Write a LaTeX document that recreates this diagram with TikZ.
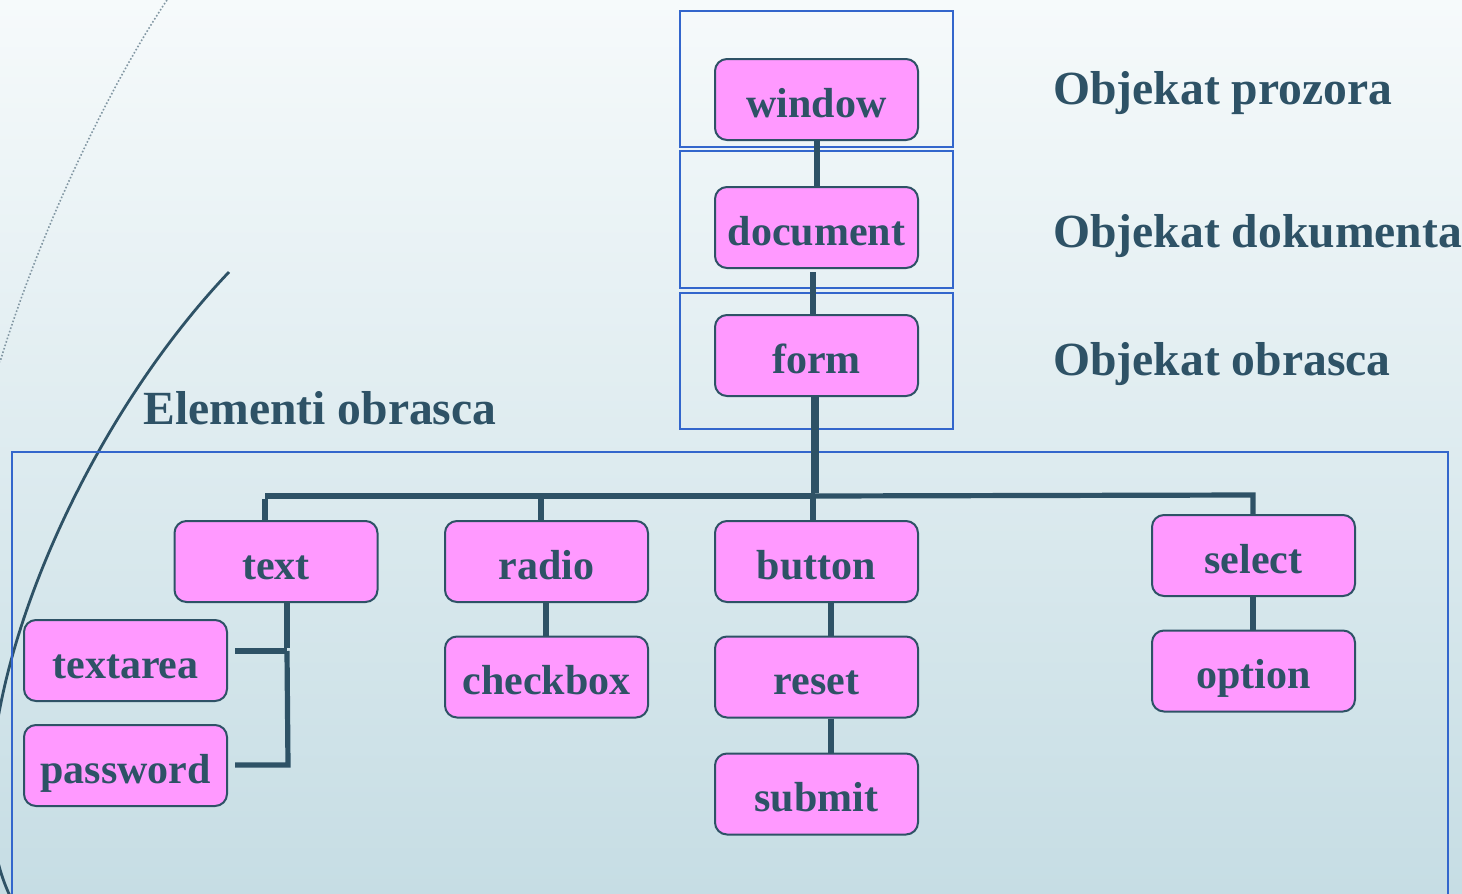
\documentclass[tikz,border=0pt]{standalone}
\usepackage{fontspec}
\setmainfont{Liberation Serif}
\definecolor{bgtop}{RGB}{246,250,251}
\definecolor{bgbot}{RGB}{198,221,228}
\definecolor{ink}{RGB}{46,82,102}
\definecolor{pinkfill}{RGB}{255,153,255}
\definecolor{frameblue}{RGB}{51,102,204}
\tikzset{
  box/.style={draw=ink, line width=1pt, fill=pinkfill, rounded corners=6pt,
    minimum width=101.5pt, minimum height=40.5pt, inner sep=0pt,
    font=\fontsize{21}{21}\selectfont\bfseries, text=ink,
    text height=21pt, text depth=3.4pt},
  frame/.style={draw=frameblue, line width=1pt},
  conn/.style={draw=ink, line width=2.6pt},
  thickconn/.style={draw=ink, line width=4pt},
  lbl/.style={anchor=base west, inner sep=0pt, text=ink,
    font=\fontsize{23.8}{24}\selectfont\bfseries}
}
\begin{document}
\begin{tikzpicture}[x=0.5pt,y=-0.5pt]
\useasboundingbox (0,0) rectangle (1462,894);
\clip (0,0) rectangle (1462,894);
\fill[top color=bgtop, bottom color=bgbot] (0,0) rectangle (1462,894);
% decorative curves
\draw[ink!60, line width=0.8pt, densely dotted] (167,0) .. controls (110,85) and (40,230) .. (0,362);
\draw[ink, line width=1.4pt] (229,272) .. controls (60,450) and (-60,760) .. (12,900);
% frames
\draw[frame] (680,11) rectangle (953,147);
\draw[frame] (680,151) rectangle (953,288);
\draw[frame] (680,293) rectangle (953,429);
\draw[frame] (12,452) rectangle (1448,910);
% nodes
\node[box] (window)   at (816.5,99.5)  {window};
\node[box] (document) at (816.5,227.5) {document};
\node[box] (form)     at (816.5,355.5) {form};
\node[box] (text)     at (276,561.5)   {text};
\node[box] (radio)    at (546.5,561.5) {radio};
\node[box] (button)   at (816.5,561.5) {button};
\node[box] (select)   at (1253.5,555.5){select};
\node[box] (textarea) at (125.5,660.5) {textarea};
\node[box] (password) at (125.5,765.5) {password};
\node[box] (checkbox) at (546.5,677)   {checkbox};
\node[box] (reset)    at (816.5,677)   {reset};
\node[box] (submit)   at (816.5,794)   {submit};
\node[box] (option)   at (1253.5,671)  {option};
% labels
\node[lbl] (l1) at (1053,104) {Objekat prozora};
\node[lbl] (l2) at (1053,247) {Objekat dokumenta};
\node[lbl] (l3) at (1053,375) {Objekat obrasca};
\node[lbl] (l4) at (143,424) {Elementi obrasca};
% connectors
\coordinate (d1) at (817,0);
\coordinate (d2) at (813,272);
\coordinate (j)  at (815,496);
\coordinate (bl) at (265,496);
\coordinate (br) at (1253,495);
\coordinate (rd) at (541,496);
\coordinate (bd) at (813,496);
\draw[conn] (window.south -| d1) -- (document.north -| d1);
\draw[conn] (d2) -- (form.north -| d2);
\draw[thickconn] (form.south -| j) -- ([yshift=1.5]j);
\draw[conn, line width=3pt] (bl) -- (j);
\draw[conn] (j) -- (br) -- (select.north -| br);
\draw[conn] ([yshift=-1.5]bl) -- (text.north -| bl);
\draw[conn] (rd) -- (radio.north -| rd);
\draw[conn] (bd) -- (button.north -| bd);
% text group
\coordinate (tv) at (287,651);
\coordinate (tp) at (288,765);
\coordinate (ta) at (235,651);
\coordinate (pa) at (235,765);
\draw[conn] (text.south -| tv) -- ([yshift=1.3]tv);
\draw[conn] (tv) -- (ta);
\draw[conn] (tv) -- (tp) -- (pa);
\coordinate (rc) at (546,0);
\draw[conn] (radio.south -| rc) -- (checkbox.north -| rc);
\coordinate (bc) at (831,0);
\draw[conn] (button.south -| bc) -- (reset.north -| bc);
\draw[conn] (reset.south -| bc) -- (submit.north -| bc);
\coordinate (sc) at (1253,0);
\draw[conn] (select.south -| sc) -- (option.north -| sc);
\end{tikzpicture}
\end{document}
